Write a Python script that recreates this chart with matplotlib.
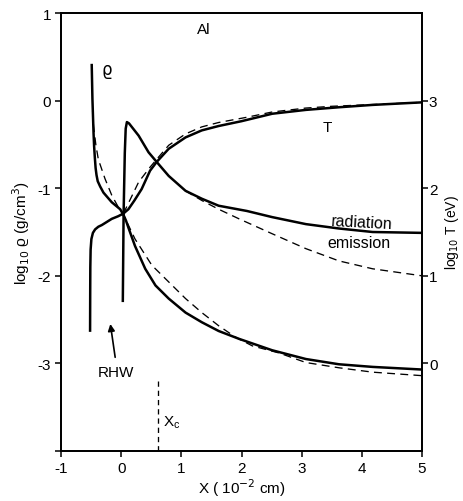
import matplotlib
matplotlib.use("Agg")
import matplotlib.pyplot as plt

plt.rcParams['font.family'] = ['Liberation Sans', 'DejaVu Sans']
plt.rcParams['axes.unicode_minus'] = False

# density (log10 rho, left axis)
rho_solid_x = [-0.49, -0.478, -0.46, -0.45, -0.437, -0.425, -0.41, -0.39, -0.35, -0.295, -0.157, -0.017, 0.035,
               0.08, 0.12, 0.23, 0.40, 0.57, 0.79, 1.07, 1.34, 1.62, 1.96, 2.51, 3.07, 3.62, 4.18, 5.0]
rho_solid_y = [0.42, 0.02, -0.36, -0.52, -0.66, -0.77, -0.85, -0.92, -0.98, -1.05, -1.16, -1.24, -1.30,
               -1.37, -1.45, -1.66, -1.92, -2.11, -2.26, -2.42, -2.53, -2.63, -2.72, -2.85, -2.95, -3.01, -3.04, -3.07]
rho_dash_x = [-0.475, -0.46, -0.42, -0.38, -0.27, -0.157, -0.045, 0.035, 0.23, 0.51, 0.79, 1.07,
              1.34, 1.62, 1.9, 2.18, 2.62, 3.07, 3.62, 4.18, 5.0]
rho_dash_y = [-0.12, -0.29, -0.51, -0.67, -0.89, -1.08, -1.22, -1.30, -1.58, -1.88, -2.07, -2.26,
              -2.42, -2.57, -2.70, -2.80, -2.88, -2.99, -3.05, -3.10, -3.14]

# temperature (log10 T in eV, right axis)
T_solid_x = [-0.517, -0.515, -0.513, -0.508, -0.495, -0.47, -0.433, -0.38, -0.32, -0.157, -0.05, 0.035,
             0.12, 0.22, 0.34, 0.48, 0.59, 0.79, 1.07, 1.34, 1.62, 2.0, 2.51, 3.07, 3.62, 4.18, 5.0]
T_solid_y = [0.36, 0.80, 1.10, 1.30, 1.42, 1.49, 1.53, 1.56, 1.58, 1.65, 1.68, 1.71,
             1.76, 1.86, 1.99, 2.20, 2.30, 2.45, 2.58, 2.66, 2.71, 2.765, 2.85, 2.894, 2.924, 2.951, 2.98]
T_dash_x = [0.035, 0.1, 0.29, 0.48, 0.59, 0.79, 1.07, 1.34, 1.62, 2.09, 2.51, 3.07, 3.5, 4.18, 5.0]
T_dash_y = [1.71, 1.80, 2.07, 2.24, 2.33, 2.49, 2.62, 2.70, 2.75, 2.81, 2.87, 2.915, 2.935, 2.955, 2.98]

# radiation emission (arbitrary log units, drawn on left scale)
em_solid_x = [0.027, 0.04, 0.06, 0.075, 0.095, 0.13, 0.29, 0.455, 0.59, 0.79, 1.07, 1.34, 1.62,
              2.09, 2.51, 3.07, 3.62, 4.18, 5.0]
em_solid_y = [-2.30, -1.30, -0.60, -0.32, -0.245, -0.26, -0.40, -0.59, -0.70, -0.86, -1.03, -1.12,
              -1.20, -1.26, -1.33, -1.41, -1.46, -1.50, -1.51]
em_dash_x = [1.07, 1.34, 1.62, 1.96, 2.51, 3.07, 3.62, 4.18, 5.0]
em_dash_y = [-1.03, -1.14, -1.24, -1.35, -1.52, -1.69, -1.83, -1.92, -2.00]

xc = 0.62

fig = plt.figure(figsize=(4.63, 5.02), dpi=100)
ax = fig.add_axes([0.1318, 0.0996, 0.7796, 0.8725])
ax2 = ax.twinx()

k = 'black'
lw_s = 1.8
lw_d = 0.95
dash = (0, (6, 4))

ax.plot(rho_solid_x, rho_solid_y, color=k, lw=lw_s, solid_capstyle='butt', solid_joinstyle='round')
ax.plot(rho_dash_x, rho_dash_y, color=k, lw=lw_d, linestyle=dash)
ax.plot(em_solid_x, em_solid_y, color=k, lw=lw_s, solid_capstyle='butt', solid_joinstyle='round')
ax.plot(em_dash_x, em_dash_y, color=k, lw=lw_d, linestyle=dash)
ax2.plot(T_solid_x, T_solid_y, color=k, lw=lw_s, solid_capstyle='butt', solid_joinstyle='round')
ax2.plot(T_dash_x, T_dash_y, color=k, lw=lw_d, linestyle=dash)
ax.plot([xc, xc], [-3.2, -4.0], color=k, lw=lw_d, linestyle=(0, (4, 3)))

ax.set_xlim(-1, 5)
ax.set_ylim(-4, 1)
ax2.set_ylim(-1, 4)

ax.set_xticks([-1, 0, 1, 2, 3, 4, 5])
ax.set_xticklabels(['-1', '0', '1', '2', '3', '4', '5'])
ax.set_yticks([-4, -3, -2, -1, 0, 1])
ax.set_yticklabels(['', '-3', '-2', '-1', '0', '1'])
ax2.set_yticks([0, 1, 2, 3])
ax2.set_yticklabels(['0', '1', '2', '3'])

for a in (ax, ax2):
    for s in a.spines.values():
        s.set_linewidth(1.3)
ax.tick_params(axis='both', direction='out', length=4, width=1.1, labelsize=11, pad=3)
ax2.tick_params(axis='y', direction='out', length=4, width=1.1, labelsize=11, pad=1)

ax.set_xlabel('X ( 10$^{-2}$ cm)', fontsize=11, labelpad=1)
ax.set_ylabel('log$_{10}$ ϱ (g/cm$^3$)', fontsize=11, labelpad=4)
ax2.set_ylabel('log$_{10}$ T (eV)', fontsize=10, labelpad=4)

ax.text(1.37, 0.82, 'Al', fontsize=11, ha='center', va='center')
ax.text(-0.24, 0.36, 'ϱ', fontsize=12, ha='center', va='center', family=['DejaVu Sans'])
ax.text(3.42, -0.30, 'T', fontsize=11, ha='center', va='center')
ax.text(4.0, -1.385, 'radiation', fontsize=11.5, ha='center', va='center', rotation=-3)
ax.text(3.96, -1.615, 'emission', fontsize=11.5, ha='center', va='center')
ax.text(xc + 0.08, -3.66, 'X$_\\mathregular{c}$', fontsize=11, ha='left', va='center')
ax.annotate('', xy=(-0.18, -2.55), xytext=(-0.1, -2.93),
            arrowprops=dict(arrowstyle='-|>', color=k, lw=1.2, mutation_scale=10, shrinkA=0, shrinkB=0))
ax.text(-0.095, -3.10, 'RHW', fontsize=11, ha='center', va='center')

fig.savefig('out.png', dpi=100)
